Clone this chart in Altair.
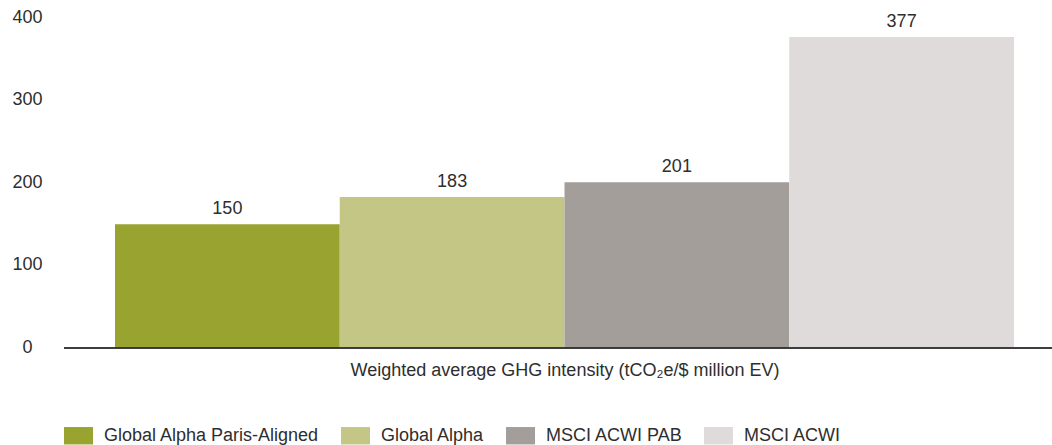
import altair as alt
import pandas as pd

categories = ["Global Alpha Paris-Aligned", "Global Alpha", "MSCI ACWI PAB", "MSCI ACWI"]
values = [150, 183, 201, 377]
colors = ["#98a42f", "#c4c685", "#a39e9a", "#dfdbda"]
x_title = "Weighted average GHG intensity (tCO\u2082e/$ million EV)"
y_ticks = [0, 100, 200, 300, 400]

df = pd.DataFrame({"cat": categories, "val": values})

FONT = "Liberation Sans"
TXT = "#2e2e2e"
FS = 18
W, H = 988, 330

xenc = alt.X(
    "cat:N",
    sort=categories,
    scale=alt.Scale(range=[51, 950], paddingInner=0, paddingOuter=0),
    axis=alt.Axis(title=x_title, labels=False, ticks=False, domain=False,
                  titleFont=FONT, titleFontSize=FS, titleFontWeight="normal",
                  titleColor=TXT, titlePadding=13),
)
yenc = alt.Y(
    "val:Q",
    scale=alt.Scale(domain=[0, 400], nice=False),
    axis=alt.Axis(title=None, values=y_ticks, domain=False, ticks=False, tickSize=0,
                  grid=False, labelAlign="center", labelPadding=37, labelOffset=-1,
                  labelFont=FONT, labelFontSize=FS, labelColor=TXT),
)

bars = alt.Chart(df).mark_bar().encode(
    x=xenc,
    y=yenc,
    color=alt.Color(
        "cat:N",
        sort=categories,
        scale=alt.Scale(domain=categories, range=colors),
        legend=alt.Legend(
            title=None, orient="none", legendX=0, legendY=403, direction="horizontal",
            symbolType="M-1,-0.6L1,-0.6L1,0.6L-1,0.6Z", symbolSize=841,
            symbolStrokeWidth=0, symbolOpacity=1,
            labelFont=FONT, labelFontSize=FS, labelColor=TXT, labelOffset=11,
            columnPadding=21, labelLimit=0,
        ),
    ),
)

labels = alt.Chart(df).mark_text(
    baseline="alphabetic", dy=-10, font=FONT, fontSize=FS, color=TXT
).encode(
    x=alt.X("cat:N", sort=categories),
    y="val:Q",
    text="val:Q",
)

baseline = alt.Chart(df).mark_rule(color="#333333", strokeWidth=1.2).encode(
    x=alt.value(0), x2=alt.value(W), y=alt.datum(0)
)

chart = alt.layer(bars, labels, baseline).properties(
    width=W, height=H,
    autosize=alt.AutoSizeParams(type="none"),
    padding={"left": 64, "top": 18, "right": 0, "bottom": 97},
).configure_view(stroke=None)

chart.save("out.html", embed_options={"renderer": "svg", "actions": False})
